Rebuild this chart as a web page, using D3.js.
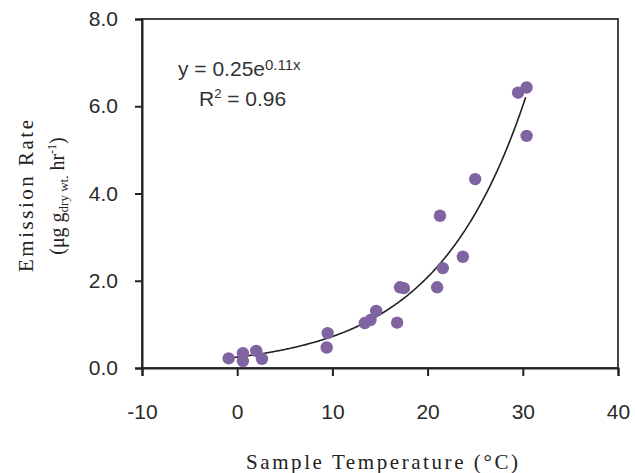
<!DOCTYPE html>
<html>
<head>
<meta charset="utf-8">
<script src="https://cdn.jsdelivr.net/npm/d3@7"></script>
<style>
  body { margin: 0; background: #fff; }
  svg { display: block; }
</style>
</head>
<body>
<svg id="chart" width="635" height="473"></svg>
<script>
// sample temperature (°C) and emission rate
const temps = [-0.9, 0.6, 0.6, 2.0, 2.6, 9.5, 9.4, 13.4, 14.0, 14.6, 17.1, 17.5, 16.8, 21.0, 21.6, 21.3, 23.7, 25.0, 29.5, 30.4, 30.4];
const rates = [0.22, 0.34, 0.16, 0.39, 0.21, 0.80, 0.47, 1.03, 1.10, 1.31, 1.85, 1.83, 1.04, 1.85, 2.29, 3.49, 2.55, 4.33, 6.31, 6.43, 5.32];

const xTicks = [-10, 0, 10, 20, 30, 40];
const yTicks = [0, 2, 4, 6, 8];

// exponential trend line, as drawn
const trendA = 0.25, trendB = 0.106;

const svg = d3.select("#chart");
const plotLeft = 142, plotRight = 618, plotTop = 19, plotBottom = 368;

let x = d3.scaleLinear().domain([-10, 40]).range([plotLeft, plotRight]);
let y = d3.scaleLinear().domain([0, 8]).range([plotBottom, plotTop]);

// frame
svg.append("rect")
  .attr("x", plotLeft).attr("y", plotTop)
  .attr("width", plotRight - plotLeft).attr("height", plotBottom - plotTop)
  .attr("fill", "none").attr("stroke", "#444").attr("stroke-width", 2);

let xAxis = svg.append("g")
  .attr("transform", `translate(0,${plotBottom})`)
  .call(d3.axisBottom(x).tickValues(xTicks).tickSize(8).tickPadding(28).tickFormat(d => String(d)));

let yAxis = svg.append("g")
  .attr("transform", `translate(${plotLeft},0)`)
  .call(d3.axisLeft(y).tickValues(yTicks).tickSize(7).tickPadding(17).tickFormat(d => d.toFixed(1)));

[xAxis, yAxis].forEach(g => {
  g.select(".domain").attr("stroke", "#222").attr("stroke-width", 2);
  g.selectAll(".tick line").attr("stroke", "#222").attr("stroke-width", 2);
  g.selectAll(".tick text")
    .attr("fill", "#2a2a2a")
    .style("font-family", "'Liberation Sans', Arial, sans-serif")
    .style("font-size", "21px");
});

// trend line
let line = d3.line().x(d => x(d)).y(d => y(trendA * Math.exp(trendB * d)));
svg.append("path")
  .datum(d3.range(-1, 30.31, 0.1))
  .attr("d", line)
  .attr("fill", "none")
  .attr("stroke", "#222")
  .attr("stroke-width", 1.6);

// points
svg.append("g").selectAll("circle")
  .data(temps)
  .join("circle")
  .attr("cx", d => x(d))
  .attr("cy", (d, i) => y(rates[i]))
  .attr("r", 6.2)
  .attr("fill", "#8064A2");

// equation
const sans = "'Liberation Sans', Arial, sans-serif";
let eq = svg.append("text")
  .attr("x", 178).attr("y", 76)
  .attr("fill", "#333")
  .style("font-family", sans).style("font-size", "21px");
eq.append("tspan").text("y = 0.25e");
eq.append("tspan").attr("dy", -6).style("font-size", "15px").text("0.11x");

let r2 = svg.append("text")
  .attr("x", 199).attr("y", 106)
  .attr("fill", "#333")
  .style("font-family", sans).style("font-size", "21px");
r2.append("tspan").text("R");
r2.append("tspan").attr("dy", -8).style("font-size", "13px").text("2");
r2.append("tspan").attr("dy", 8).text(" = 0.96");

// axis titles
const serif = "'Liberation Serif', 'Times New Roman', serif";
svg.append("text")
  .attr("x", 382).attr("y", 469)
  .attr("text-anchor", "middle")
  .attr("fill", "#222")
  .attr("textLength", 272)
  .style("font-family", serif).style("font-size", "21px")
  .text("Sample Temperature (°C)");

let yt = svg.append("g").attr("transform", "translate(33,196) rotate(-90)");
yt.append("text")
  .attr("text-anchor", "middle")
  .attr("fill", "#222")
  .attr("textLength", 152)
  .style("font-family", serif).style("font-size", "21px")
  .text("Emission Rate");

let yt2 = yt.append("text")
  .attr("y", 31)
  .attr("text-anchor", "middle")
  .attr("fill", "#222")
  .style("font-family", serif).style("font-size", "20px");
yt2.append("tspan").text("(μg g");
yt2.append("tspan").attr("dy", 4).style("font-size", "13px").text("dry wt.");
yt2.append("tspan").attr("dy", -4).text(" hr");
yt2.append("tspan").attr("dy", -8).style("font-size", "12px").text("-1");
yt2.append("tspan").attr("dy", 8).text(")");
</script>
</body>
</html>
